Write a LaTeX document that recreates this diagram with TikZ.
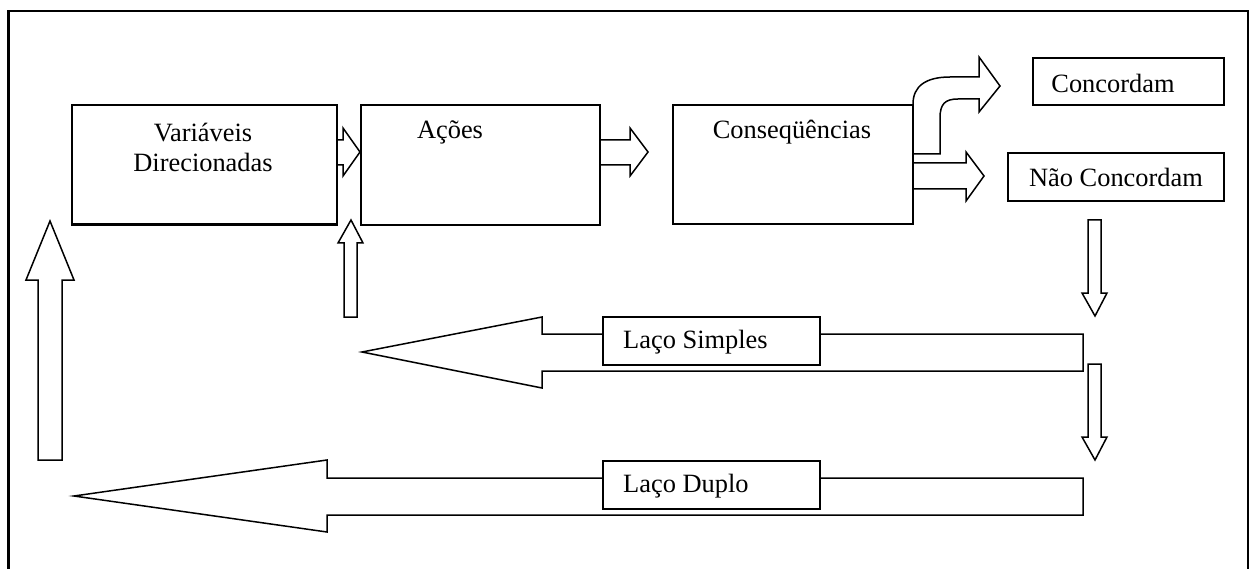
\documentclass[tikz,border=0pt]{standalone}
\usepackage{fontspec}
\setmainfont{Liberation Serif}
\begin{document}
\begin{tikzpicture}[x=1pt,y=-1pt,
  box/.style={draw,line width=1.8pt,fill=white,inner sep=0pt,anchor=north west},
  txt/.style={font=\fontsize{26.4}{30}\selectfont,inner sep=0pt,align=center},
  barrow/.style={draw,line width=1.5pt,fill=white,line join=miter}]
\useasboundingbox (0,0) rectangle (1249,569);
% outer frame (no bottom side)
\draw[line width=2.5pt] (8.5,569) -- (8.5,11) -- (1247.8,11) -- (1247.8,569);

% block arrows
\draw[barrow] (336,140) -- (343,140) -- (343,128) -- (360,152) -- (343,176) -- (343,165) -- (336,165);
\draw[barrow] (599,140) -- (630,140) -- (630,128) -- (648,152) -- (630,176) -- (630,165) -- (599,165);
\draw[barrow] (912,163) -- (966,163) -- (966,152) -- (984,176) -- (966,201) -- (966,189) -- (912,189);
\draw[barrow] (913,104) .. controls (913,86) and (926,77) .. (950,77) -- (979,77) -- (979,57)
  -- (1000,86) -- (979,112) -- (979,99) -- (958,99) .. controls (945,99) and (940,104) .. (940,118)
  -- (940,154) -- (913,154);
\draw[barrow] (344,317) -- (344,243) -- (338,243) -- (351,220) -- (363,243) -- (357,243) -- (357,317) -- cycle;
\draw[barrow] (1083,334) -- (542,334) -- (542,317) -- (362,352) -- (542,388) -- (542,371) -- (1083,371) -- cycle;
\draw[barrow] (1088,220) -- (1101,220) -- (1101,293) -- (1107,293) -- (1095,316) -- (1082,293) -- (1088,293) -- cycle;
\draw[barrow] (1088,364) -- (1101,364) -- (1101,437) -- (1107,437) -- (1095,460) -- (1082,437) -- (1088,437) -- cycle;
\draw[barrow] (1083,478) -- (327,478) -- (327,460) -- (74,496) -- (327,532) -- (327,515) -- (1083,515) -- cycle;
\draw[barrow] (38,460) -- (38,280) -- (26,280) -- (50,221) -- (74,280) -- (62,280) -- (62,460) -- cycle;

% boxes
\node[box,minimum width=265pt,minimum height=119pt] (var) at (71,104) {};
\draw[line width=3pt] (var.south west) -- (var.south east);
\node[txt] (vart) at (203,147) {Variáveis\\Direcionadas};
\node[box,minimum width=239pt,minimum height=120pt] (acoes) at (360,104) {};
\node[txt] (acoest) at (450,132) {Ações};
\node[box,minimum width=240pt,minimum height=119pt] (cons) at (672,104) {};
\node[txt] (const) at (792,132) {Conseqüências};
\node[box,minimum width=191pt,minimum height=47pt] (conc) at (1032,57) {};
\node[txt] (conct) at (1113,83) {Concordam};
\node[box,minimum width=216pt,minimum height=48pt] (nao) at (1007,152) {};
\node[txt] (naot) at (1116,177) {Não Concordam};
\node[box,minimum width=217pt,minimum height=48pt] (ls) at (602,316) {};
\node[txt,anchor=west] (lst) at (623,342) {Laço Simples};
\node[box,minimum width=217pt,minimum height=48pt] (ld) at (602,460) {};
\node[txt,anchor=west] (ldt) at (623,486) {Laço Duplo};
\end{tikzpicture}
\end{document}
